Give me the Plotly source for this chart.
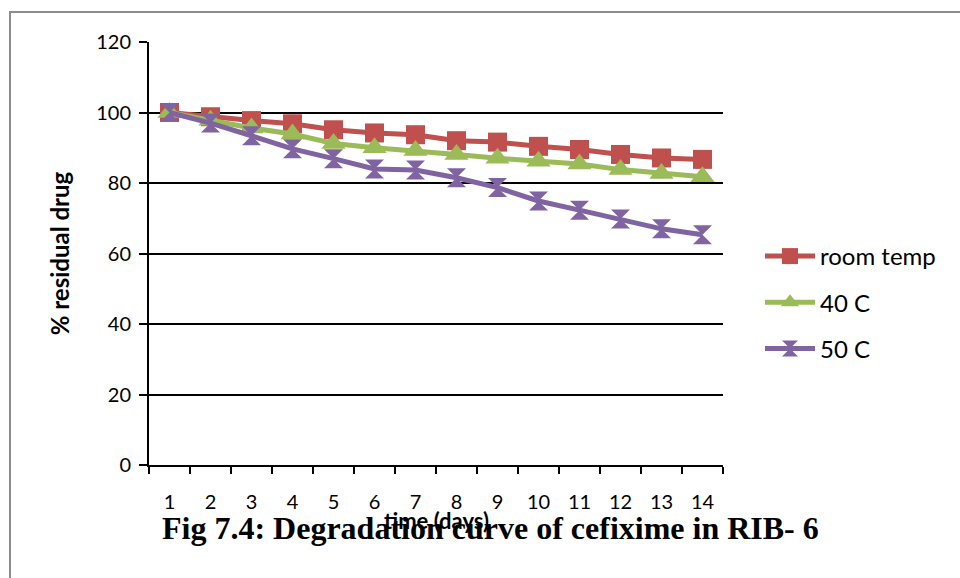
import plotly.graph_objects as go

# Storage time (days) and percentage of cefixime remaining
days = [str(d) for d in range(1, 15)]
room_temp = [100, 98.8, 97.7, 96.8, 95.1, 94.2, 93.7, 92.0, 91.6, 90.4, 89.5, 88.1, 87.1, 86.7]
temp_40c = [100, 97.8, 95.6, 93.9, 91.2, 90.0, 89.2, 88.1, 87.0, 86.2, 85.4, 83.8, 82.7, 81.8]
temp_50c = [100, 97.0, 93.4, 89.7, 86.9, 84.0, 83.7, 81.5, 78.7, 74.9, 72.3, 69.8, 67.0, 65.3]
y_ticks = [0, 20, 40, 60, 80, 100, 120]

series = [
    ("room temp", room_temp, "#C0504D", "square", 19),
    ("40 C", temp_40c, "#9BBB59", "triangle-up", 21),
    ("50 C", temp_50c, "#8064A2", "hourglass", 19),
]

SANS = "Lato, Carlito, Calibri, sans-serif"

fig = go.Figure()
for name, vals, color, symbol, msize in series:
    fig.add_trace(go.Scatter(
        x=days, y=vals, name=name, mode="lines+markers",
        legendgroup=name,
        line=dict(color=color, width=5),
        marker=dict(symbol=symbol, size=msize, color=color,
                    line=dict(width=0)),
    ))

# plot-area geometry in pixels
W, H = 960, 578
L, R, T, B = 149, 723, 42, 465

def px_x(p):
    return (p - L) / (R - L)

def px_y(p):
    return (B - p) / (B - T)

fig.update_layout(
    width=W, height=H,
    margin=dict(l=L, r=W - R, t=T, b=H - B, autoexpand=False),
    paper_bgcolor="white", plot_bgcolor="white",
    font=dict(family=SANS, size=20, color="black"),
    showlegend=True,
    legend=dict(
        x=px_x(760), y=px_y(234), xanchor="left", yanchor="top",
        itemwidth=50, tracegroupgap=12,
        font=dict(family=SANS, size=24, color="black"),
        bgcolor="rgba(0,0,0,0)",
    ),
    xaxis=dict(
        type="category", range=[-0.5, 13.5],
        showgrid=False, zeroline=False,
        showline=True, linecolor="black", linewidth=2,
        ticks="outside", tickson="boundaries", ticklen=7,
        tickwidth=1.5, tickcolor="black",
        ticklabelstandoff=18,
        tickfont=dict(family=SANS, size=20),
    ),
    yaxis=dict(
        range=[0, 120], tickvals=y_ticks,
        showgrid=True, gridcolor="black", gridwidth=2,
        zeroline=False,
        showline=True, linecolor="black", linewidth=2,
        ticks="outside", ticklen=8, tickwidth=1.5, tickcolor="black",
        ticklabelstandoff=4,
        tickfont=dict(family=SANS, size=20),
        title=dict(text="<b>% residual drug</b>", standoff=20,
                   font=dict(family=SANS, size=24)),
    ),
    shapes=[dict(
        type="rect", xref="paper", yref="paper",
        x0=px_x(10), x1=px_x(975), y0=px_y(595), y1=px_y(12),
        line=dict(color="#8c8c8c", width=2), fillcolor="rgba(0,0,0,0)",
        layer="below",
    )],
    annotations=[
        dict(
            text="<b>Fig 7.4: Degradation curve of cefixime in RIB- 6</b>",
            xref="paper", yref="paper", x=px_x(490), y=px_y(528),
            xanchor="center", yanchor="middle", showarrow=False,
            font=dict(family="Liberation Serif, Times New Roman, serif",
                      size=32, color="black"),
        ),
        # x-axis title, set just under the tick labels
        dict(
            text="<b>time (days)</b>",
            xref="paper", yref="paper", x=0.5, y=px_y(520),
            xanchor="center", yanchor="middle", showarrow=False,
            font=dict(family=SANS, size=22, color="black"),
        ),
    ],
)

fig.write_html("out.html")
